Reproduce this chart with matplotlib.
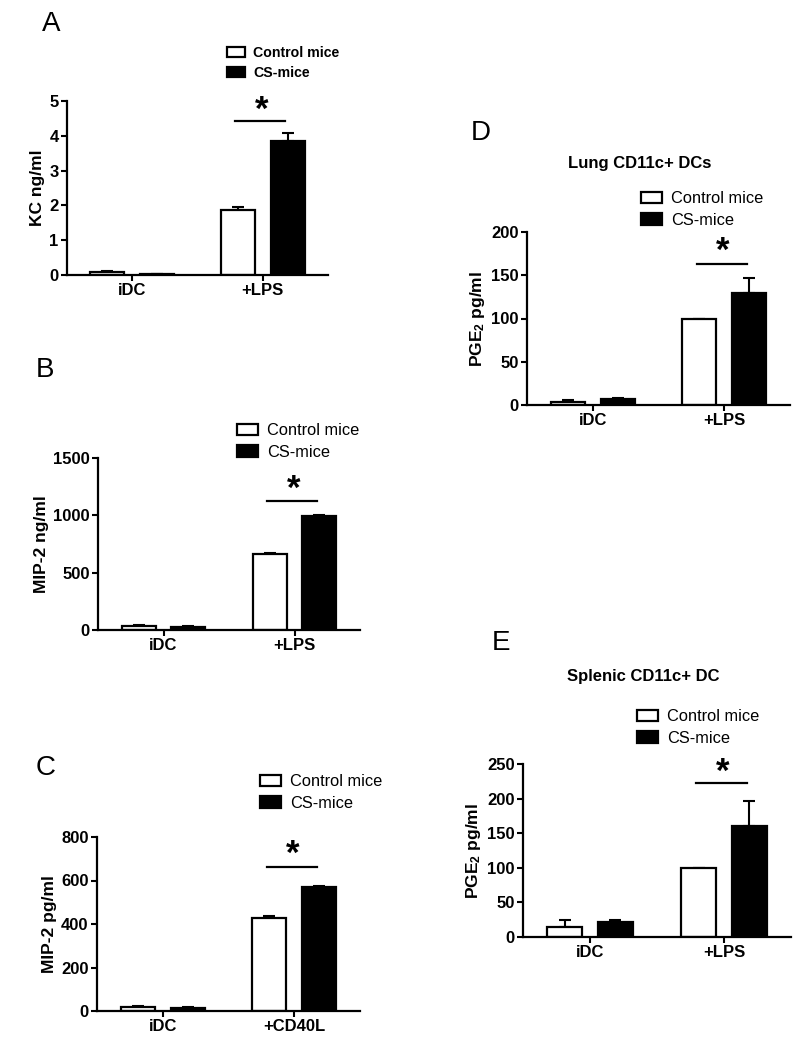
import matplotlib
matplotlib.use("Agg")
import matplotlib.pyplot as plt
import numpy as np

plt.rcParams["font.family"] = ["Liberation Sans", "DejaVu Sans"]
plt.rcParams["mathtext.default"] = "regular"

W, H = 808, 1050

groups = ["Control mice", "CS-mice"]

# panel A - KC
a_cats = ["iDC", "+LPS"]
a_ctrl = [0.08, 1.88]
a_ctrl_err = [0.03, 0.08]
a_cs = [0.02, 3.86]
a_cs_err = [0.005, 0.23]

# panel B - MIP-2 ng/ml
b_cats = ["iDC", "+LPS"]
b_ctrl = [35, 660]
b_ctrl_err = [12, 12]
b_cs = [30, 995]
b_cs_err = [5, 5]

# panel C - MIP-2 pg/ml
c_cats = ["iDC", "+CD40L"]
c_ctrl = [18, 428]
c_ctrl_err = [3, 8]
c_cs = [15, 568]
c_cs_err = [3, 5]

# panel D - PGE2 lung
d_cats = ["iDC", "+LPS"]
d_ctrl = [3, 100]
d_ctrl_err = [3, 0]
d_cs = [7, 130]
d_cs_err = [1.5, 17]

# panel E - PGE2 spleen
e_cats = ["iDC", "+LPS"]
e_ctrl = [14, 100]
e_ctrl_err = [10, 0]
e_cs = [22, 161]
e_cs_err = [2, 35]


def px_axes(fig, x0, ytop, x1, ybot):
    return fig.add_axes([x0 / W, 1 - ybot / H, (x1 - x0) / W, (ybot - ytop) / H])


def panel(fig, box, cats, ctrl, ctrl_err, cs, cs_err, ymax, step, ylabel,
          sig_y, star_y, leg_xy, leg_bold=False, leg_size=11.8):
    ax = px_axes(fig, *box)
    x = np.arange(len(cats))
    w = 0.26
    off = 0.19
    b1 = ax.bar(x - off, ctrl, w, color="white", edgecolor="black", linewidth=1.6,
                label=groups[0], zorder=2)
    b2 = ax.bar(x + off, cs, w, color="black", edgecolor="black", linewidth=1.6,
                label=groups[1], zorder=2)
    for xs, vals, errs in [(x - off, ctrl, ctrl_err), (x + off, cs, cs_err)]:
        ax.errorbar(xs, vals, yerr=[np.zeros(len(errs)), errs], fmt="none",
                    ecolor="black", elinewidth=1.5, capsize=4.5, capthick=1.5, zorder=1)
    ax.set_xlim(-0.5, 1.5)
    ax.set_ylim(0, ymax)
    ax.set_yticks(np.arange(0, ymax + step / 2, step))
    ax.set_xticks(x)
    ax.set_xticklabels(cats)
    for s in ["top", "right"]:
        ax.spines[s].set_visible(False)
    for s in ["left", "bottom"]:
        ax.spines[s].set_linewidth(1.6)
        ax.spines[s].set_zorder(3)
    ax.tick_params(direction="out", length=4, width=1.5, pad=2, labelsize=12)
    for lab in ax.get_xticklabels() + ax.get_yticklabels():
        lab.set_fontweight("bold")
    ax.set_ylabel(ylabel, fontsize=12.5, fontweight="bold", labelpad=3)
    ax.plot([0.79, 1.17], [sig_y, sig_y], color="black", linewidth=1.6, clip_on=False)
    ax.text(0.99, star_y, "*", ha="center", va="center", fontsize=25,
            fontweight="bold", clip_on=False)
    ax.legend(handles=[b1, b2], loc="upper left",
              bbox_to_anchor=(leg_xy[0] / W, 1 - leg_xy[1] / H),
              bbox_transform=fig.transFigure, frameon=False, borderpad=0,
              borderaxespad=0, handlelength=1.3, handleheight=0.7,
              handletextpad=0.55, labelspacing=0.4,
              prop={"size": leg_size, "weight": "bold" if leg_bold else "normal"})
    return ax


fig = plt.figure(figsize=(W / 100, H / 100), dpi=100)

panel(fig, (67, 101, 328, 275), a_cats, a_ctrl, a_ctrl_err, a_cs, a_cs_err,
      5, 1, "KC ng/ml", 4.43, 4.72, (227, 46), leg_bold=True, leg_size=10.2)
panel(fig, (98, 458, 360, 630), b_cats, b_ctrl, b_ctrl_err, b_cs, b_cs_err,
      1500, 500, "MIP-2 ng/ml", 1125, 1225, (237, 423))
panel(fig, (97, 837, 360, 1011), c_cats, c_ctrl, c_ctrl_err, c_cs, c_cs_err,
      800, 200, "MIP-2 pg/ml", 663, 722, (260, 774))
panel(fig, (527, 232, 790, 405), d_cats, d_ctrl, d_ctrl_err, d_cs, d_cs_err,
      200, 50, "PGE$_2$ pg/ml", 163, 178, (641, 191))
panel(fig, (523, 764, 791, 937), e_cats, e_ctrl, e_ctrl_err, e_cs, e_cs_err,
      250, 50, "PGE$_2$ pg/ml", 222, 238, (637, 709))

fig.text(640 / W, 1 - 168 / H, "Lung CD11c+ DCs", ha="center", va="baseline",
         fontsize=12, fontweight="bold")
fig.text(643 / W, 1 - 681 / H, "Splenic CD11c+ DC", ha="center", va="baseline",
         fontsize=12, fontweight="bold")

for letter, lx, ly in [("A", 42, 31), ("B", 36, 377), ("C", 36, 775),
                       ("D", 471, 140), ("E", 492, 650)]:
    fig.text(lx / W, 1 - ly / H, letter, ha="left", va="baseline", fontsize=20)

fig.savefig("out.png", dpi=100)
plt.close(fig)
